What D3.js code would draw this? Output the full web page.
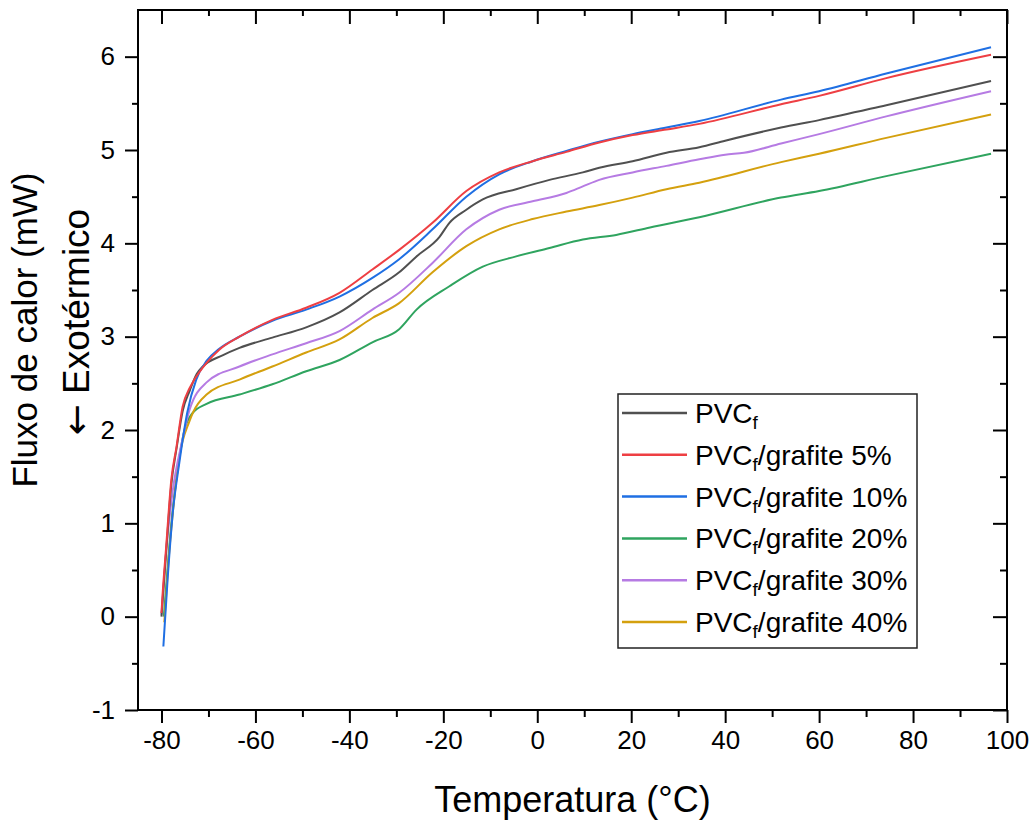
<!DOCTYPE html>
<html>
<head>
<meta charset="utf-8">
<script src="https://cdn.jsdelivr.net/npm/d3@7"></script>
<style>
  body { margin: 0; background: #fff; }
  svg text { font-family: "Liberation Sans", Arial, sans-serif; fill: #000; }
</style>
</head>
<body>
<div id="chart"></div>
<script>
// series: [temperature (°C), heat flow (mW)]
var pvc = [[-80,0.0],[-79,0.7],[-77.9,1.42],[-76.8,1.8],[-75.5,2.2],[-74,2.42],[-72.5,2.6],[-71.2,2.68],
  [-67,2.8],[-63.4,2.88],[-56.4,2.99],[-49.2,3.10],[-42.1,3.26],[-35.1,3.50],[-29.4,3.69],[-25.7,3.86],
  [-20.8,4.07],[-18.7,4.22],[-15.1,4.36],[-11.6,4.47],[-4.5,4.58],[2.6,4.68],[9.7,4.76],[13.2,4.81],
  [20.3,4.88],[27.5,4.97],[34.5,5.03],[40,5.1],[51.9,5.24],[60,5.32],[74.3,5.48],[96.6,5.74]];
var g5 = [[-80,0.04],[-79.8,0.21],[-79,0.75],[-77.9,1.47],[-76.8,1.82],[-75.5,2.25],[-74,2.45],[-73,2.54],
  [-70.4,2.72],[-67.7,2.86],[-63.4,3.0],[-56.4,3.18],[-49.2,3.31],[-42.1,3.47],[-35.1,3.72],[-29.4,3.93],
  [-22.3,4.22],[-15.1,4.56],[-8.1,4.76],[-1,4.88],[6.2,4.98],[13.2,5.08],[20.3,5.16],[27.5,5.22],
  [34.5,5.28],[51.9,5.49],[60,5.58],[74.3,5.77],[96.6,6.02]];
var g10 = [[-79.6,-0.32],[-78.7,0.40],[-77.6,1.11],[-76.2,1.65],[-74.5,2.19],[-72.6,2.54],[-70.4,2.74],
  [-67.7,2.87],[-63.4,3.0],[-56.4,3.17],[-49.2,3.29],[-42.1,3.43],[-35.1,3.63],[-29.4,3.83],[-22.3,4.15],
  [-15.1,4.50],[-8.1,4.74],[-1,4.88],[6.2,4.99],[13.2,5.09],[20.3,5.17],[27.5,5.24],[34.5,5.31],
  [51.9,5.54],[60,5.63],[74.3,5.82],[96.6,6.10]];
var g20 = [[-79.5,0.0],[-78.5,0.65],[-77.6,1.15],[-76.2,1.7],[-75.1,2.0],[-73.4,2.18],[-70.4,2.28],
  [-63.4,2.38],[-56.4,2.49],[-49.2,2.63],[-42.1,2.75],[-35.1,2.94],[-29.4,3.08],[-25.7,3.29],[-18.7,3.54],
  [-11.6,3.75],[-4.5,3.86],[2.6,3.95],[9.7,4.04],[16.8,4.09],[24,4.17],[34.5,4.28],[51.9,4.49],
  [60,4.56],[74.3,4.72],[96.6,4.96]];
var g30 = [[-80,0.02],[-79,0.7],[-77.6,1.35],[-75.7,1.86],[-74,2.22],[-70.4,2.51],[-63.4,2.68],[-56.4,2.81],
  [-49.2,2.93],[-42.1,3.06],[-35.1,3.29],[-29.4,3.47],[-22.3,3.79],[-15.1,4.15],[-8.1,4.36],[-1,4.45],
  [6.2,4.54],[9.7,4.61],[13.2,4.68],[20.3,4.76],[27.5,4.83],[34.5,4.90],[40,4.95],[44,4.97],[51.9,5.07],
  [60,5.17],[74.3,5.36],[96.6,5.63]];
var g40 = [[-79.4,-0.06],[-78.5,0.6],[-77.6,1.11],[-76.2,1.71],[-74,2.10],[-70.4,2.38],[-63.4,2.54],
  [-56.4,2.68],[-49.2,2.83],[-42.1,2.97],[-35.1,3.20],[-29.4,3.36],[-22.3,3.69],[-15.1,3.97],[-8.1,4.15],
  [-1,4.26],[6.2,4.34],[13.2,4.41],[20.3,4.49],[27.5,4.58],[34.5,4.65],[51.9,4.87],[60,4.96],
  [74.3,5.13],[96.6,5.38]];

var seriesData = [pvc, g5, g10, g20, g30, g40];
var seriesSuffix = ["", "/grafite 5%", "/grafite 10%", "/grafite 20%", "/grafite 30%", "/grafite 40%"];
var seriesColors = ["#505050", "#ee3f43", "#1f6fe3", "#2fa45f", "#b67be3", "#d4a00e"];
var xTicks = [-80, -60, -40, -20, 0, 20, 40, 60, 80, 100];
var yTicks = [-1, 0, 1, 2, 3, 4, 5, 6];

var W = 1035, H = 821;
var m = {left: 138, right: 1007, top: 10, bottom: 710};

var svg = d3.select("#chart").append("svg")
    .attr("width", W)
    .attr("height", H);

var x = d3.scaleLinear().domain([-85, 100]).range([m.left, m.right]);
var y = d3.scaleLinear().domain([-1, 6.5]).range([m.bottom, m.top]);

var xMinor = d3.range(-70, 100, 20);
var yMinor = d3.range(-0.5, 6.5, 1);
var plain = function(d) { return String(d); };

// axes: outward on bottom/left, inward on top/right
function styleAxis(g) {
    g.select(".domain").remove();
    g.selectAll(".tick line").attr("stroke", "#000").attr("stroke-width", 2);
    g.selectAll(".tick text").style("font-size", "26px");
}

svg.append("g")
    .attr("transform", "translate(0," + m.bottom + ")")
    .call(d3.axisBottom(x).tickValues(xTicks).tickSize(13).tickPadding(8).tickFormat(plain))
    .call(styleAxis);
svg.append("g")
    .attr("transform", "translate(0," + m.bottom + ")")
    .call(d3.axisBottom(x).tickValues(xMinor).tickSize(7).tickFormat(""))
    .call(styleAxis);
svg.append("g")
    .attr("transform", "translate(" + m.left + ",0)")
    .call(d3.axisLeft(y).tickValues(yTicks).tickSize(13).tickPadding(10).tickFormat(plain))
    .call(styleAxis);
svg.append("g")
    .attr("transform", "translate(" + m.left + ",0)")
    .call(d3.axisLeft(y).tickValues(yMinor).tickSize(6).tickFormat(""))
    .call(styleAxis);
svg.append("g")
    .attr("transform", "translate(0," + m.top + ")")
    .call(d3.axisBottom(x).tickValues(xTicks).tickSize(14).tickFormat(""))
    .call(styleAxis);
svg.append("g")
    .attr("transform", "translate(0," + m.top + ")")
    .call(d3.axisBottom(x).tickValues(xMinor).tickSize(6).tickFormat(""))
    .call(styleAxis);
svg.append("g")
    .attr("transform", "translate(" + m.right + ",0)")
    .call(d3.axisLeft(y).tickValues(yTicks).tickSize(14).tickFormat(""))
    .call(styleAxis);
svg.append("g")
    .attr("transform", "translate(" + m.right + ",0)")
    .call(d3.axisLeft(y).tickValues(yMinor).tickSize(7).tickFormat(""))
    .call(styleAxis);

// frame
svg.append("rect")
    .attr("x", m.left)
    .attr("y", m.top)
    .attr("width", m.right - m.left)
    .attr("height", m.bottom - m.top)
    .attr("fill", "none")
    .attr("stroke", "#000")
    .attr("stroke-width", 2);

// curves
var line = d3.line()
    .x(function(d) { return x(d[0]); })
    .y(function(d) { return y(d[1]); })
    .curve(d3.curveMonotoneX);

var drawOrder = [3, 5, 4, 0, 2, 1];
drawOrder.forEach(function(i) {
    svg.append("path")
        .datum(seriesData[i])
        .attr("d", line)
        .attr("fill", "none")
        .attr("stroke", seriesColors[i])
        .attr("stroke-width", 2);
});

// axis titles
svg.append("text")
    .attr("x", (m.left + m.right) / 2)
    .attr("y", 812)
    .style("text-anchor", "middle")
    .style("font-size", "36px")
    .text("Temperatura (°C)");

svg.append("text")
    .attr("transform", "translate(37,330) rotate(-90)")
    .style("text-anchor", "middle")
    .style("font-size", "35px")
    .text("Fluxo de calor (mW)");

var exo = svg.append("text")
    .attr("transform", "translate(89,322) rotate(-90)")
    .style("text-anchor", "middle")
    .style("font-size", "37px");
exo.append("tspan").style("font-family", "DejaVu Sans").text("\u2190");
exo.append("tspan").text("   Exotérmico");

// legend
var legend = svg.append("g");
legend.append("rect")
    .attr("x", 618)
    .attr("y", 394)
    .attr("width", 299)
    .attr("height", 254)
    .attr("fill", "#fff")
    .attr("stroke", "#222")
    .attr("stroke-width", 1.5);

seriesSuffix.forEach(function(s, i) {
    var ry = 413 + i * 41.8;
    legend.append("line")
        .attr("x1", 622).attr("x2", 687)
        .attr("y1", ry).attr("y2", ry)
        .attr("stroke", seriesColors[i])
        .attr("stroke-width", 2.5);
    var t = legend.append("text")
        .attr("x", 695)
        .attr("y", ry + 10)
        .style("font-size", "28px");
    t.append("tspan").text("PVC");
    t.append("tspan").attr("dy", 6).style("font-size", "19px").text("f");
    if (s) t.append("tspan").attr("dy", -6).text(s);
});
</script>
</body>
</html>
